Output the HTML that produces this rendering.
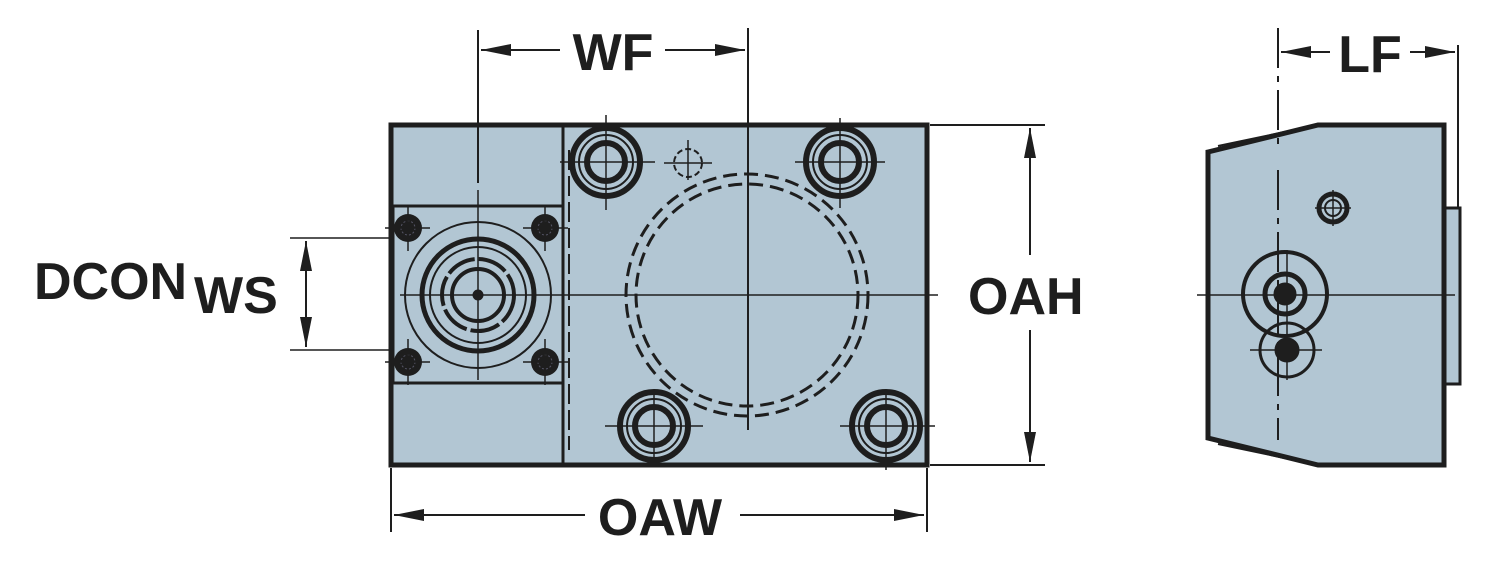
<!DOCTYPE html>
<html><head><meta charset="utf-8"><style>
html,body{margin:0;padding:0;background:#fff;}
svg{display:block}
text{font-family:"Liberation Sans",sans-serif;fill:#1e1e1e;font-size:52px;font-weight:bold;}
</style></head><body>
<svg width="1500" height="565" viewBox="0 0 1500 565" xmlns="http://www.w3.org/2000/svg">
<defs>
<marker id="a" viewBox="0 0 30 12" refX="30" refY="6" markerWidth="30" markerHeight="12" orient="auto" markerUnits="userSpaceOnUse"><path d="M0,0 L30,6 L0,12z" fill="#1e1e1e"/></marker>
</defs>
<g stroke="#1e1e1e" fill="none">
<!-- main body -->
<rect x="391" y="125" width="536" height="340" fill="#b2c6d3" stroke-width="5"/>
<line x1="563" y1="125" x2="563" y2="465" stroke-width="3"/>
<line x1="569" y1="150" x2="569" y2="450" stroke-width="2" stroke-dasharray="20 6"/>
<rect x="393" y="206" width="170" height="177" stroke-width="3"/>
<!-- left fixture -->
<circle cx="478" cy="295" r="73" stroke-width="2"/>
<circle cx="478" cy="295" r="56" stroke-width="5"/>
<circle cx="478" cy="295" r="48" stroke-width="2"/>
<circle cx="478" cy="295" r="36" stroke-width="4" stroke-dasharray="30 4"/>
<circle cx="478" cy="295" r="26" stroke-width="4"/>
<circle cx="478" cy="295" r="5" fill="#1e1e1e"/>
<g fill="#1e1e1e" stroke="none"><circle cx="408" cy="228" r="14"/><circle cx="545" cy="228" r="14"/><circle cx="408" cy="362" r="14"/><circle cx="545" cy="362" r="14"/></g>
<g stroke="#556" stroke-width="1" stroke-dasharray="2 2"><circle cx="408" cy="228" r="7"/><circle cx="545" cy="228" r="7"/><circle cx="408" cy="362" r="7"/><circle cx="545" cy="362" r="7"/></g>
<g stroke-width="1.5">
<path d="M385 228h45M408 205v46M523 228h45M545 205v46M385 362h45M408 339v46M523 362h45M545 339v46"/>
<path d="M400 295H938M478 190v110M478 300v80"/>
<path d="M290 238H390M290 350H390"/>
</g>
<!-- big dashed circle -->
<circle cx="747" cy="295" r="121" stroke-width="3" stroke-dasharray="14 7"/>
<circle cx="747" cy="295" r="111" stroke-width="3" stroke-dasharray="14 7"/>
<circle cx="688" cy="163" r="14" stroke-width="2" stroke-dasharray="6 3"/>
<path d="M664 163h48M688 140v40" stroke-width="1.5"/>
<!-- counterbored holes -->
<g stroke-width="6">
<circle cx="606" cy="162" r="34"/><circle cx="606" cy="162" r="19"/>
<circle cx="840" cy="162" r="34"/><circle cx="840" cy="162" r="19"/>
<circle cx="654" cy="426" r="34"/><circle cx="654" cy="426" r="19"/>
<circle cx="886" cy="426" r="34"/><circle cx="886" cy="426" r="19"/>
</g>
<g stroke-width="2">
<circle cx="606" cy="162" r="27"/><circle cx="840" cy="162" r="27"/><circle cx="654" cy="426" r="27"/><circle cx="886" cy="426" r="27"/>
</g>
<g stroke-width="1.5">
<path d="M560 162h95M606 115v95M795 162h90M840 118v90M605 426h98M654 395v70M840 426h95M886 395v75"/>
</g>
<!-- WF -->
<path d="M478 30V183M748 28V430" stroke-width="2"/>
<line x1="560" y1="50" x2="481" y2="50" stroke-width="2" marker-end="url(#a)"/>
<line x1="665" y1="50" x2="745" y2="50" stroke-width="2" marker-end="url(#a)"/>
<!-- OAW -->
<path d="M391 468V532M927 468V532" stroke-width="2"/>
<line x1="585" y1="515" x2="394" y2="515" stroke-width="2" marker-end="url(#a)"/>
<line x1="740" y1="515" x2="924" y2="515" stroke-width="2" marker-end="url(#a)"/>
<!-- OAH -->
<path d="M930 125H1045M930 465H1045" stroke-width="2"/>
<line x1="1030" y1="255" x2="1030" y2="128" stroke-width="2" marker-end="url(#a)"/>
<line x1="1030" y1="330" x2="1030" y2="462" stroke-width="2" marker-end="url(#a)"/>
<!-- DCON -->
<line x1="306" y1="294" x2="306" y2="241" stroke-width="2" marker-end="url(#a)"/>
<line x1="306" y1="294" x2="306" y2="347" stroke-width="2" marker-end="url(#a)"/>
<!-- right view -->
<rect x="1438" y="208" width="22" height="176" fill="#b2c6d3" stroke-width="3"/>
<path d="M1208 152L1318 125H1444V465H1318L1208 438Z" fill="#b2c6d3" stroke-width="5"/>
<path d="M1218 146L1318 125M1218 444L1318 465" stroke-width="2"/>
<path d="M1278 28V150M1278 170V440" stroke-width="2" stroke-dasharray="40 8 6 8"/>
<path d="M1458 45V208" stroke-width="2"/>
<path d="M1197 295H1455" stroke-width="1.5"/>
<circle cx="1333" cy="208" r="14" stroke-width="5"/><circle cx="1333" cy="208" r="8" stroke-width="2"/>
<path d="M1315 208h36M1333 190v36" stroke-width="1.5"/>
<circle cx="1285" cy="294" r="42" stroke-width="4"/>
<circle cx="1285" cy="294" r="20" stroke-width="5"/>
<circle cx="1285" cy="294" r="11" fill="#1e1e1e"/>
<circle cx="1287" cy="350" r="27" stroke-width="3"/>
<circle cx="1287" cy="350" r="12" fill="#1e1e1e"/>
<path d="M1250 350h72M1287 250v130" stroke-width="1.5"/>
<line x1="1330" y1="52" x2="1281" y2="52" stroke-width="2" marker-end="url(#a)"/>
<line x1="1410" y1="52" x2="1455" y2="52" stroke-width="2" marker-end="url(#a)"/>
</g>
<text x="613" y="70" text-anchor="middle">WF</text>
<text x="1370" y="72" text-anchor="middle">LF</text>
<text x="660" y="535" text-anchor="middle">OAW</text>
<text x="968" y="314">OAH</text>
<text x="34" y="299">DCON</text>
<text x="194" y="313">WS</text>
</svg>
</body></html>
